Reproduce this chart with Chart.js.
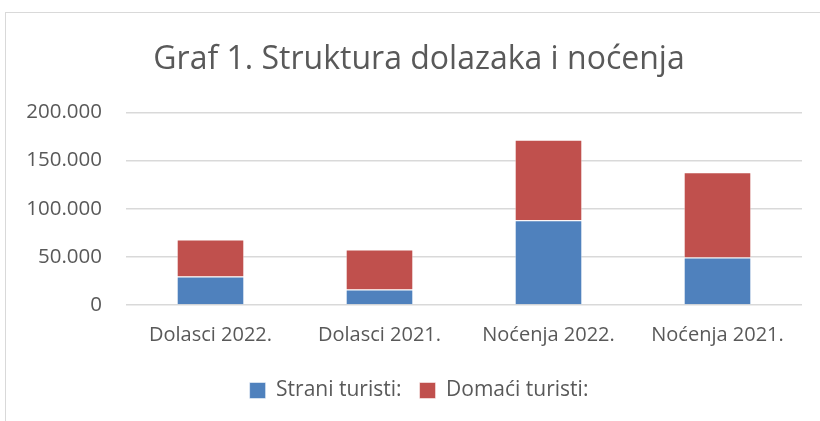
<!DOCTYPE html>
<html>
<head>
<meta charset="utf-8">
<script src="https://cdn.jsdelivr.net/npm/chart.js@4.4.1/dist/chart.umd.min.js"></script>
<style>
  html, body { margin: 0; padding: 0; background: #fff; }
  #wrap { position: relative; width: 820px; height: 421px; overflow: hidden; }
  #frame { position: absolute; left: 5px; top: 12px; width: 840px; height: 440px;
           border: 1px solid #d9d9d9; box-sizing: border-box; }
  #chart { position: absolute; left: 0; top: 0; }
</style>
</head>
<body>
<div id="wrap">
  <div id="frame"></div>
  <canvas id="chart" width="820" height="421"></canvas>
</div>
<script>
// Graf 1. – struktura dolazaka i noćenja (stacked)
const CATEGORIES = ["Dolasci 2022.", "Dolasci 2021.", "Noćenja 2022.", "Noćenja 2021."];
const STRANI = [29600, 16000, 87900, 49400];
const DOMACI = [38500, 41700, 83600, 88500];
const Y_MAX = 200000;
const Y_STEP = 50000;

const TEXT = "#595959";
const FONT = "'Open Sans', 'DejaVu Sans', sans-serif";

// 200000 -> "200.000"
function fmt(v) {
  return String(v).replace(/\B(?=(\d{3})+(?!\d))/g, ".");
}

// y labels stick out left of the axis box, so widen its clip area
const unclipY = {
  id: "unclipY",
  afterLayout(chart) {
    chart.scales.y.left = 0;
  }
};

const ctx = document.getElementById("chart").getContext("2d");

new Chart(ctx, {
  type: "bar",
  data: {
    labels: CATEGORIES,
    datasets: [
      {
        label: "Strani turisti:",
        data: STRANI,
        backgroundColor: "#4f81bd",
        borderColor: "rgba(255,255,255,0.5)",
        borderWidth: 1
      },
      {
        label: "Domaći turisti:",
        data: DOMACI,
        backgroundColor: "#c0504d",
        borderColor: "rgba(255,255,255,0.5)",
        borderWidth: 1
      }
    ]
  },
  plugins: [unclipY],
  options: {
    responsive: false,
    animation: false,
    categoryPercentage: 1,
    barPercentage: 0.4,
    layout: { padding: { left: 36, right: 18, top: 0, bottom: 10 } },
    plugins: {
      title: {
        display: true,
        text: "Graf 1. Struktura dolazaka i noćenja",
        color: TEXT,
        font: { family: FONT, size: 32, weight: "normal" },
        padding: { top: 41, bottom: 33 }
      },
      legend: {
        position: "bottom",
        labels: {
          color: TEXT,
          font: { family: FONT, size: 21 },
          boxWidth: 16,
          boxHeight: 16,
          padding: 18
        }
      },
      tooltip: { enabled: false }
    },
    scales: {
      x: {
        stacked: true,
        grid: { display: false },
        border: { display: false },
        ticks: { color: TEXT, font: { family: FONT, size: 20 }, padding: 10 },
        afterFit: (scale) => { scale.height = 57; }
      },
      y: {
        stacked: true,
        min: 0,
        max: Y_MAX,
        grid: { color: "#d9d9d9", lineWidth: 1.5, drawTicks: false },
        border: { display: false },
        ticks: {
          stepSize: Y_STEP,
          color: TEXT,
          font: { family: FONT, size: 20.5 },
          padding: 24,
          callback: (v) => fmt(v)
        },
        afterFit: (scale) => { scale.width = 90; }
      }
    }
  }
});
</script>
</body>
</html>
